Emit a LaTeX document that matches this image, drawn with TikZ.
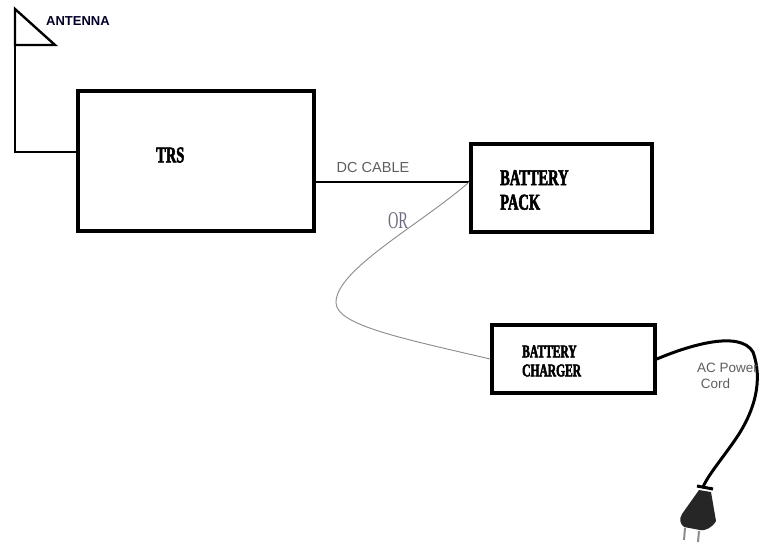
\documentclass[tikz,border=0pt]{standalone}
\usepackage{fontspec}
\setmainfont{Liberation Serif}
\setsansfont{Liberation Sans}
\newfontfamily\boxfont{Liberation Serif Bold}[FakeStretch=0.64,FakeBold=2.5]
\newfontfamily\orfont{Liberation Serif}[FakeStretch=0.6]
\usetikzlibrary{positioning}
\definecolor{cabletext}{HTML}{5E5E5E}
\definecolor{ortext}{HTML}{6C6C80}
\definecolor{wiregray}{HTML}{8A8A8A}
\begin{document}
\begin{tikzpicture}[x=1pt,y=-1pt,
    box/.style={draw,line width=3.6pt,minimum width=#1},
    boxlabel/.style={text=black,align=left,inner sep=0pt,anchor=west},
    graylabel/.style={font=\sffamily,text=cabletext,inner sep=0pt}]
  \useasboundingbox (0,0) rectangle (759,544);
  % boxes
  \node[box=236pt,minimum height=140pt] (trs) at (196,161) {};
  \node[box=181pt,minimum height=88pt] (pack) at (561.5,188) {};
  \node[box=163pt,minimum height=68pt] (charger) at (573.5,359) {};
  \node[boxlabel,font=\boxfont\fontsize{22.6}{24}\selectfont] (trslabel) at (156,155) {TRS};
  \node[boxlabel,font=\boxfont\fontsize{22.6}{24.5}\selectfont] (packlabel) at (500,190) {BATTERY\\PACK};
  \node[boxlabel,font=\boxfont\fontsize{18}{19}\selectfont] (chargerlabel) at (522,361) {BATTERY\\CHARGER};
  % antenna
  \coordinate (ant) at (15,45);
  \draw[line width=2.4pt] (15,9) -- (ant) -- (55,45) -- cycle;
  \draw[line width=2.4pt] (ant) |- ([yshift=9pt]trs.west);
  \node[font=\sffamily\bfseries\fontsize{13}{14}\selectfont,text=black!85!blue,inner sep=0pt] (antlabel) at (78,21) {ANTENNA};
  % dc cable
  \draw[line width=2pt] ([yshift=6pt]pack.west) coordinate (jack) -- (jack -| trs.east);
  \node[graylabel,font=\sffamily\fontsize{14.5}{15}\selectfont] (dclabel) at (373,168) {DC CABLE};
  \node[font=\orfont\fontsize{24}{25}\selectfont,text=ortext,inner sep=0pt] (orlabel) at (398,221) {OR};
  \draw[wiregray,line width=0.9pt] (jack) .. controls (420,225) and (335,270) .. (336,303)
    .. controls (337,325) and (400,338) .. (charger.west);
  % ac power cord
  \coordinate (plug) at (703,487);
  \draw[line width=3pt,line cap=round] (charger.east) .. controls (690,345) and (740,330) .. (753,352)
    .. controls (763,380) and (755,410) .. (737,437)
    .. controls (725,455) and (708,475) .. (plug);
  \draw[line width=3pt] (697,486) -- (713,489);
  \fill[black!85] (699,490) -- (711,492) -- (716,521) .. controls (712,528) and (705,531) .. (700,530)
    -- (684,527) .. controls (680,524) and (679,519) .. (682,514) -- cycle;
  \draw[black!45,line width=2pt] (685,528) -- (684,540);
  \draw[black!45,line width=2pt] (699,531) -- (698,542);
  \node[graylabel,font=\sffamily\fontsize{13.5}{16}\selectfont,align=left,anchor=west] (acLabel) at (697,376) {AC Power\\\ Cord};
\end{tikzpicture}
\end{document}
